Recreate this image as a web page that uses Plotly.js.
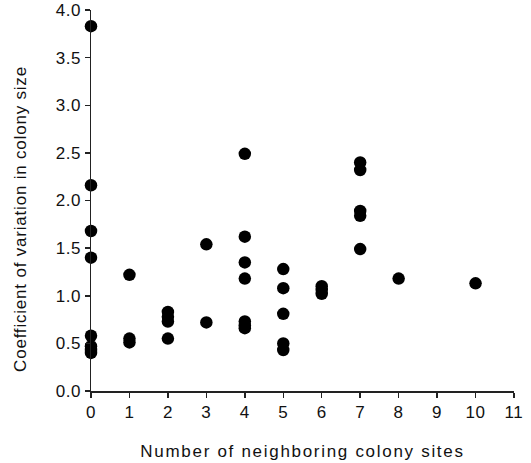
<!DOCTYPE html>
<html>
<head>
<meta charset="utf-8">
<script src="https://cdn.plot.ly/plotly-3.0.1.min.js"></script>
<style>
html,body{margin:0;padding:0;background:#fff;}
#chart{width:531px;height:463px;}
#chart .xtitle {letter-spacing: 1.7px;}
#chart .annotation-text {letter-spacing: 0.8px;}
#chart .xtick text, #chart .ytick text {letter-spacing: 0.6px;}
</style>
</head>
<body>
<div id="chart"></div>
<script>
const neighborSites = [0,0,0,0,0,0,0,0, 1,1,1, 2,2,2,2, 3,3, 4,4,4,4,4,4,4, 5,5,5,5,5, 6,6,6, 7,7,7,7,7, 8, 10];
const cvColonySize  = [3.83,2.16,1.68,1.40,0.58,0.47,0.43,0.40, 1.22,0.55,0.51, 0.83,0.78,0.73,0.55, 1.54,0.72, 2.49,1.62,1.35,1.18,0.73,0.69,0.66, 1.28,1.08,0.81,0.50,0.43, 1.10,1.06,1.02, 2.40,2.32,1.89,1.84,1.49, 1.18, 1.13];
const xTicks = [0,1,2,3,4,5,6,7,8,9,10,11];
const yTicks = [0,0.5,1,1.5,2,2.5,3,3.5,4];
const yTickText = ['0.0','0.5','1.0','1.5','2.0','2.5','3.0','3.5','4.0'];
const xTitle = 'Number of neighboring colony sites';
const yTitle = 'Coefficient of variation in colony size';

const FONT = 'Liberation Sans, Arial, Helvetica, sans-serif';
const trace = {
  x: neighborSites, y: cvColonySize, type: 'scatter', mode: 'markers',
  cliponaxis: false,
  marker: {size: 12.5, color: '#000'},
  hoverinfo: 'x+y'
};
const axisCommon = {
  showgrid: false, zeroline: false, showline: true, linecolor: '#222', linewidth: 1.5,
  ticks: 'outside', ticklen: 5, tickwidth: 1.5, tickcolor: '#222',
  tickfont: {family: FONT, size: 17, color: '#111'}
};
const layout = {
  width: 531, height: 463,
  margin: {l: 91, r: 17, t: 10, b: 72},
  paper_bgcolor: '#fff', plot_bgcolor: '#fff',
  showlegend: false,
  xaxis: Object.assign({}, axisCommon, {
    range: [0, 11], tickvals: xTicks, ticktext: xTicks.map(String),
    title: {text: xTitle, standoff: 24, font: {family: FONT, size: 17, color: '#111'}}
  }),
  yaxis: Object.assign({}, axisCommon, {
    range: [0, 4], tickvals: yTicks, ticktext: yTickText
  }),
  annotations: [{
    text: yTitle, textangle: -90, showarrow: false,
    xref: 'paper', yref: 'paper', x: -0.168, y: 0.453, xanchor: 'center', yanchor: 'middle',
    font: {family: FONT, size: 17, color: '#111'}
  }]
};
Plotly.newPlot('chart', [trace], layout, {displayModeBar: false, staticPlot: true});
</script>
</body>
</html>
